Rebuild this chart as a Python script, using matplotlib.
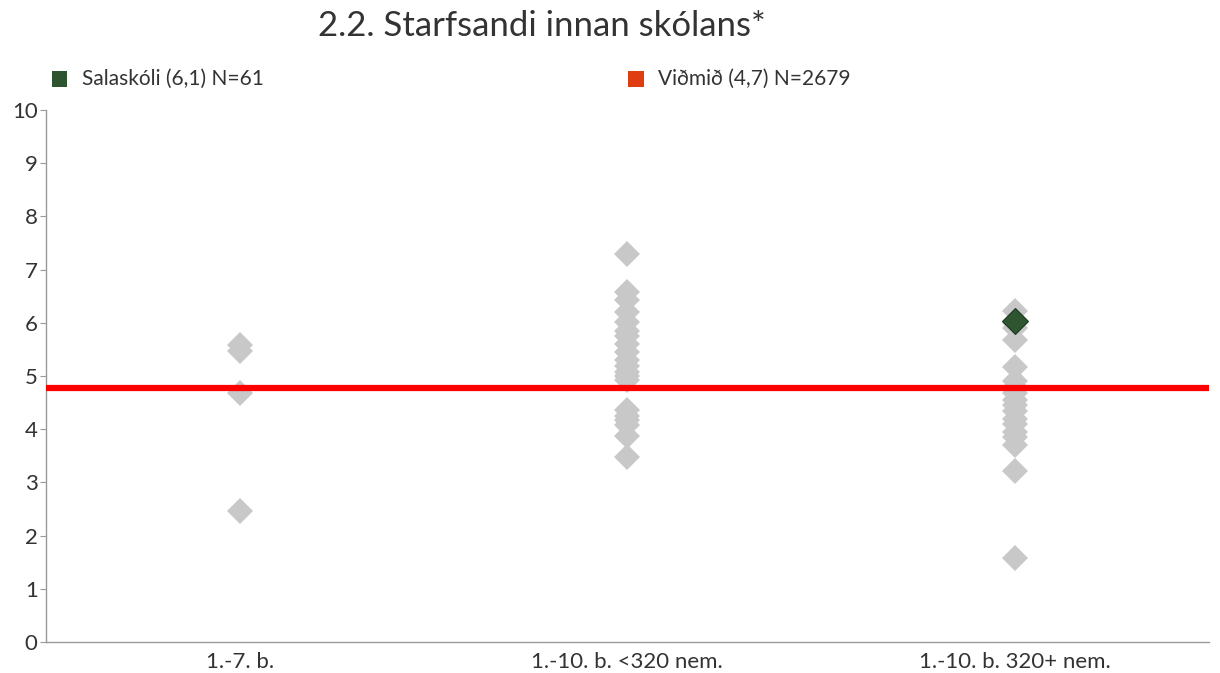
import numpy as np
import matplotlib.pyplot as plt
import matplotlib.patches as mpatches

plt.rcParams['font.family'] = ['Lato', 'DejaVu Sans']

categories = ["1.-7. b.", "1.-10. b. <320 nem.", "1.-10. b. 320+ nem."]

# other schools, per group
grp1 = [5.58, 5.47, 4.68, 2.46]
grp2 = [7.29, 6.58, 6.43, 6.2, 6.02, 5.85, 5.75, 5.6, 5.45, 5.3, 5.18, 5.08, 5.0, 4.92,
        4.36, 4.25, 4.17, 4.08, 3.87, 3.48]
grp3 = [6.22, 6.0, 5.9, 5.68, 5.17, 4.9, 4.8, 4.68, 4.55, 4.45, 4.35, 4.2, 4.1, 3.95,
        3.85, 3.7, 3.22, 1.58]
groups = [grp1, grp2, grp3]

school_name = "Salaskóli (6,1) N=61"
school_group = 2
school_value = 6.03
ref_name = "Viðmið (4,7) N=2679"
ref_value = 4.78

fig = plt.figure(figsize=(12.2, 6.73), dpi=100)
ax = fig.add_axes([0.0377, 0.046, 0.953, 0.7905])

for i, g in enumerate(groups):
    ax.plot([i] * len(g), g, linestyle='none', marker='D', markersize=13.5,
            color='#c8c8c8', markeredgewidth=0, zorder=2)

ax.plot([school_group], [school_value], linestyle='none', marker='D', markersize=13.5,
        color='#2e5430', markeredgecolor='#1e3a20', markeredgewidth=0.8, zorder=4)
ax.axhline(ref_value, color='#ff0000', linewidth=4.5, zorder=3)

ax.set_xlim(-0.5, 2.5)
ax.set_ylim(0, 10)
ax.set_yticks(range(0, 11))
ax.set_xticks(range(len(categories)))
ax.set_xticklabels(categories)
ax.tick_params(axis='x', length=0, labelsize=16, colors='#333333', pad=7)
ax.tick_params(axis='y', length=4, labelsize=16, colors='#333333', pad=2)
ax.tick_params(axis='y', color='#999999')
for s in ['top', 'right']:
    ax.spines[s].set_visible(False)
for s in ['left', 'bottom']:
    ax.spines[s].set_color('#999999')
    ax.spines[s].set_linewidth(1)

fig.text(0.444, 0.962, "2.2. Starfsandi innan skólans*", ha='center', va='center',
         fontsize=25, color='#333333')

# legend
fig.patches.append(mpatches.Rectangle((0.0426, 0.871), 0.0125, 0.024, transform=fig.transFigure,
                                      facecolor='#2e5430', edgecolor='none'))
fig.text(0.067, 0.8835, school_name, ha='left', va='center', fontsize=15, color='#333333')
fig.patches.append(mpatches.Rectangle((0.515, 0.871), 0.0125, 0.024, transform=fig.transFigure,
                                      facecolor='#e03c12', edgecolor='none'))
fig.text(0.539, 0.8835, ref_name, ha='left', va='center', fontsize=15, color='#333333')

fig.savefig("out.png", dpi=100)
